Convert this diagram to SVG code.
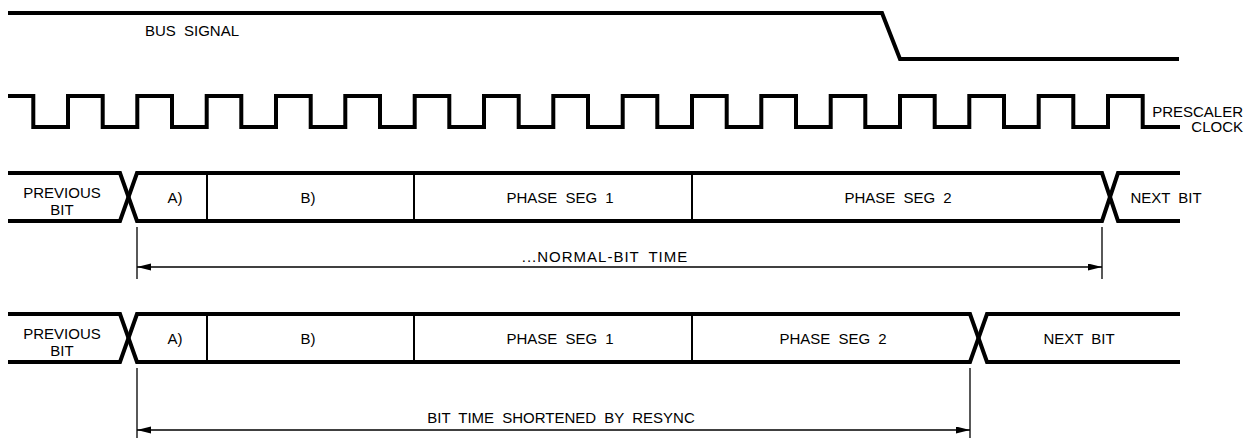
<svg xmlns="http://www.w3.org/2000/svg" width="1249" height="438" viewBox="0 0 1249 438">
<style>
.thick{fill:none;stroke:#000;stroke-width:4;stroke-linejoin:miter}
.div{fill:none;stroke:#000;stroke-width:2}
.dim{fill:none;stroke:#000;stroke-width:1.3}
text{font-family:"Liberation Sans",Arial,sans-serif;font-size:15px;fill:#000;word-spacing:4px}
.c{text-anchor:middle}
</style>
<defs>
<marker id="ah" markerUnits="userSpaceOnUse" markerWidth="14" markerHeight="8" refX="14" refY="3.5" orient="auto-start-reverse">
<path d="M0,0 L14,3.5 L0,7 z" fill="#000"/>
</marker>
</defs>
<g id="bus-signal">
<path class="thick" d="M8,13 H882 L900,59 H1179"/>
<text x="145" y="36">BUS SIGNAL</text>
</g>
<g id="prescaler-clock">
<path class="thick" d="M8,96 H33.3 V127 H68 V96 H102.7 V127 H137.3 V96 H172 V127 H206.7 V96 H241.3 V127 H276 V96 H310.7 V127 H345.3 V96 H380 V127 H414.7 V96 H449.3 V127 H484 V96 H518.7 V127 H553.3 V96 H588 V127 H622.7 V96 H657.3 V127 H692 V96 H726.7 V127 H761.3 V96 H796 V127 H830.7 V96 H865.3 V127 H900 V96 H934.7 V127 H969.3 V96 H1004 V127 H1038.7 V96 H1073.3 V127 H1108 V96 H1142.7 V127 H1180"/>
<text x="1243" y="117" text-anchor="end">PRESCALER</text>
<text x="1243" y="132" text-anchor="end">CLOCK</text>
</g>
<g id="normal-bit">
<path class="thick" d="M8,173 H120 L137,221 H1102 L1118,173 H1180"/>
<path class="thick" d="M8,221 H120 L137,173 H1102 L1118,221 H1180"/>
<path class="div" d="M207,173 V221 M414,173 V221 M692,173 V221"/>
<text class="c" x="62" y="198">PREVIOUS</text>
<text class="c" x="62" y="215">BIT</text>
<text class="c" x="175" y="203">A)</text>
<text class="c" x="308" y="203">B)</text>
<text class="c" x="560" y="203">PHASE SEG 1</text>
<text class="c" x="898" y="203">PHASE SEG 2</text>
<text class="c" x="1166" y="203">NEXT BIT</text>
</g>
<g id="shortened-bit">
<path class="thick" d="M8,314 H120 L137,362 H970 L987,314 H1180"/>
<path class="thick" d="M8,362 H120 L137,314 H970 L987,362 H1180"/>
<path class="div" d="M207,314 V362 M414,314 V362 M692,314 V362"/>
<text class="c" x="62" y="339">PREVIOUS</text>
<text class="c" x="62" y="356">BIT</text>
<text class="c" x="175" y="344">A)</text>
<text class="c" x="308" y="344">B)</text>
<text class="c" x="560" y="344">PHASE SEG 1</text>
<text class="c" x="833" y="344">PHASE SEG 2</text>
<text class="c" x="1079" y="344">NEXT BIT</text>
</g>
<g id="connectors">
<path class="dim" d="M137,227 V279 M1102,227 V279 M137,368 V438 M970,368 V438"/>
<line class="dim" x1="137" y1="267" x2="1102" y2="267" marker-start="url(#ah)" marker-end="url(#ah)"/>
<line class="dim" x1="137" y1="430" x2="970" y2="430" marker-start="url(#ah)" marker-end="url(#ah)"/>
<text class="c" x="605" y="262" style="letter-spacing:1px">...NORMAL-BIT TIME</text>
<text class="c" x="561" y="423">BIT TIME SHORTENED BY RESYNC</text>
</g>
</svg>
